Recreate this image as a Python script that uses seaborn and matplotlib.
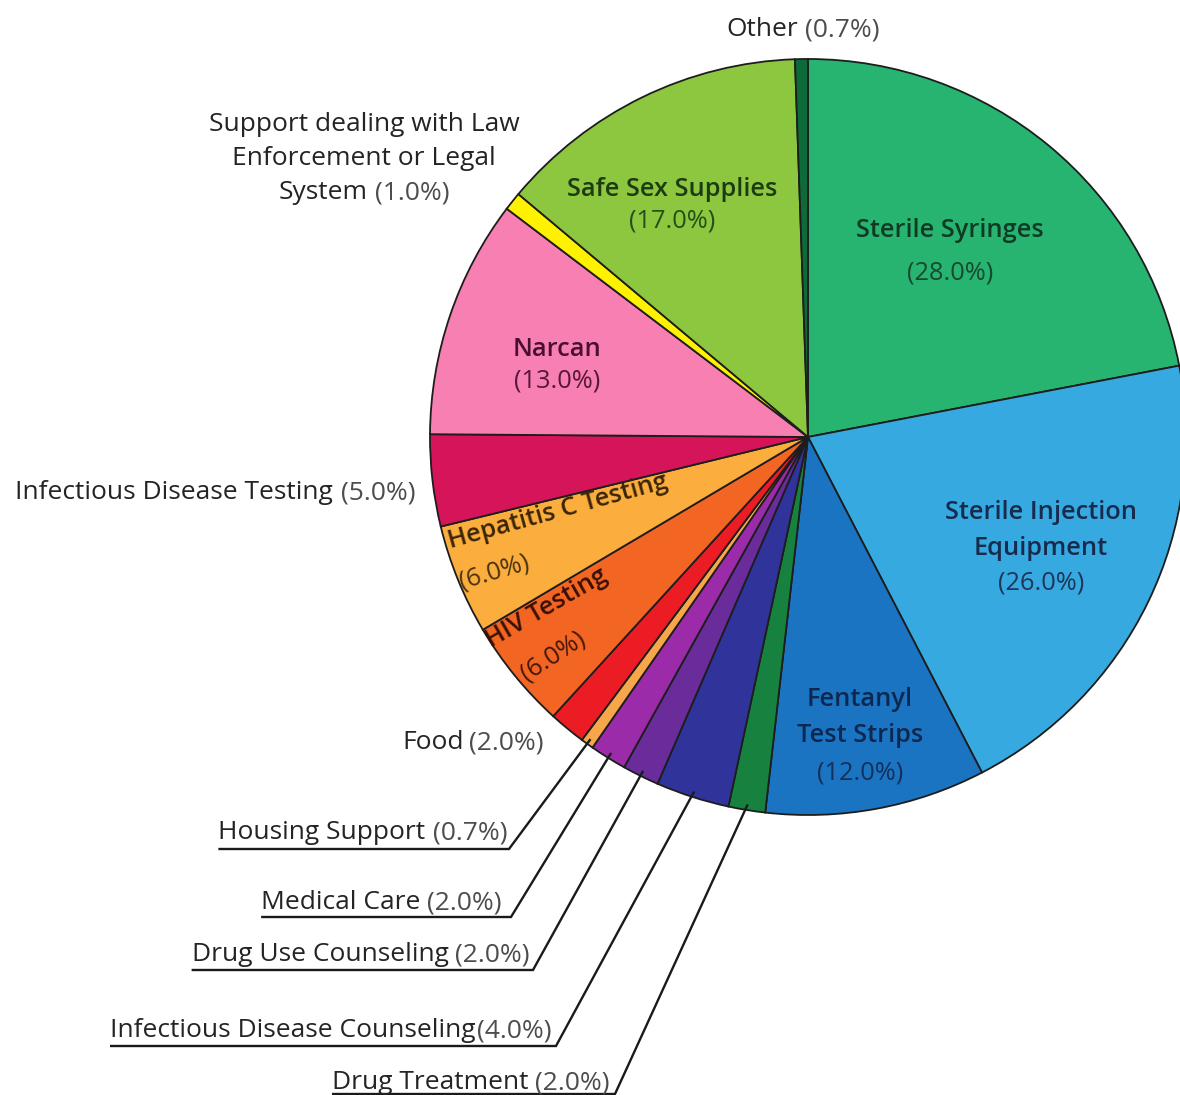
import numpy as np
import matplotlib
matplotlib.use("Agg")
import matplotlib.pyplot as plt
import seaborn as sns

# Services reported (share of responses, %), in clockwise order from 12 o'clock
categories = [
    "Sterile Syringes",
    "Sterile Injection Equipment",
    "Fentanyl Test Strips",
    "Drug Treatment",
    "Infectious Disease Counseling",
    "Drug Use Counseling",
    "Medical Care",
    "Housing Support",
    "Food",
    "HIV Testing",
    "Hepatitis C Testing",
    "Infectious Disease Testing",
    "Narcan",
    "Support dealing with Law Enforcement or Legal System",
    "Safe Sex Supplies",
    "Other",
]
shares = [28.0, 26.0, 12.0, 2.0, 4.0, 2.0, 2.0, 0.7, 2.0, 6.0, 6.0, 5.0, 13.0, 1.0, 17.0, 0.7]
slice_colors = [
    "#27b470", "#36a9e1", "#1b74c1", "#17823f", "#30339a", "#6a2c9b",
    "#9b2ba9", "#f7a64a", "#ec1c24", "#f26522", "#fbad3d", "#d5145a",
    "#f77fb1", "#fff200", "#8dc63f", "#0d6b3a",
]

sns.set_theme(style="white")
plt.rcParams["font.family"] = ["Open Sans", "DejaVu Sans"]

W, H = 1180, 1095
fig = plt.figure(figsize=(W / 100, H / 100), dpi=100)
ax = fig.add_axes([0, 0, 1, 1])

CX, CY, R = 808, 437, 378   # pie centre / radius in pixels (y measured from the top)


def up(y):
    return H - y


palette = sns.color_palette(slice_colors)
wedges, _ = ax.pie(
    shares, colors=palette, startangle=90, counterclock=False,
    center=(CX, up(CY)), radius=R, frame=False,
    wedgeprops=dict(edgecolor="#1d1d1d", linewidth=1.3),
)
ax.set_xlim(0, W)
ax.set_ylim(0, H)
ax.set_aspect("equal")
ax.set_axis_off()

wedge_of = dict(zip(categories, wedges))
pct_of = {c: f"({v:.1f}%)" for c, v in zip(categories, shares)}

renderer = fig.canvas.get_renderer()
FS_OUT = 19
FS_IN = 18.3
NAME_KW = dict(fontsize=FS_OUT, color="#242424")
PCT_KW = dict(fontsize=FS_OUT, color="#4d4d4d")


def half_cap(fs):
    return 0.5 * 0.714 * fs * 100 / 72


def rim_point(w, frac=0.985):
    th = np.deg2rad((w.theta1 + w.theta2) / 2)
    return w.center[0] + w.r * frac * np.cos(th), w.center[1] + w.r * frac * np.sin(th)


def two_part(x, cy, name, pct, ha="right", gap=7, name_kw=NAME_KW, pct_kw=PCT_KW):
    base = up(cy) - half_cap(name_kw["fontsize"])
    t1 = ax.text(0, base, name, ha="left", va="baseline", **name_kw)
    t2 = ax.text(0, base, pct, ha="left", va="baseline", **pct_kw)
    w1 = t1.get_window_extent(renderer).width
    w2 = t2.get_window_extent(renderer).width
    total = w1 + gap + w2
    left = {"left": x, "right": x - total, "center": x - total / 2}[ha]
    t1.set_x(left)
    t2.set_x(left + w1 + gap)
    return left, left + total


def one_line(x, cy, s, **kw):
    ax.text(x, up(cy) - half_cap(kw["fontsize"]), s, ha="center", va="baseline", **kw)


# --- labels outside the pie ---------------------------------------------
two_part(803, 27, "Other", pct_of["Other"], ha="center")

law = "Support dealing with Law Enforcement or Legal System"
one_line(364, 122, "Support dealing with Law", **NAME_KW)
one_line(364, 156, "Enforcement or Legal", **NAME_KW)
two_part(364, 190, "System", pct_of[law], ha="center")

two_part(415, 490, "Infectious Disease Testing", pct_of["Infectious Disease Testing"], gap=8)
two_part(544, 740, "Food", pct_of["Food"], gap=6)

# labels tied to their slices with a leader line and an underline
leader_specs = [
    # category, text right end, text centre y, corner of the leader
    ("Housing Support", 507, 830, (509, 849)),
    ("Medical Care", 502, 900, (511, 917)),
    ("Drug Use Counseling", 530, 952, (533, 970)),
    ("Infectious Disease Counseling", 552, 1028, (556, 1046)),
    ("Drug Treatment", 610, 1080, (615, 1094)),
]
for cat, right, cy, (kx, ky) in leader_specs:
    left, _ = two_part(right, cy, cat, pct_of[cat], gap=2 if "Infectious" in cat else 7)
    rx, ry = rim_point(wedge_of[cat])
    ax.plot([left, kx, rx], [up(ky), up(ky), ry], color="#1a1a1a", lw=1.7,
            solid_joinstyle="miter", solid_capstyle="butt")

# --- labels inside the pie ----------------------------------------------
inside_specs = [
    # category, lines, centre x, line centres y, name colour, percent colour
    ("Safe Sex Supplies", ["Safe Sex Supplies"], 672, [187, 218], "#1d3b12", "#24501a"),
    ("Sterile Syringes", ["Sterile Syringes"], 950, [228, 270], "#0f3a24", "#17492f"),
    ("Narcan", ["Narcan"], 557, [347, 378], "#4a0f2e", "#561838"),
    ("Sterile Injection Equipment", ["Sterile Injection", "Equipment"], 1041, [510, 546, 580],
     "#172b4d", "#1e3658"),
    ("Fentanyl Test Strips", ["Fentanyl", "Test Strips"], 860, [697, 733, 770],
     "#0d2850", "#12305a"),
]
for cat, lines, cx, ys, c_name, c_pct in inside_specs:
    for s, y in zip(lines, ys):
        one_line(cx, y, s, fontsize=FS_IN, fontweight="semibold", color=c_name)
    one_line(cx, ys[-1], pct_of[cat], fontsize=FS_IN, color=c_pct)

# rotated labels on the narrow testing slices
rot_specs = [
    ("Hepatitis C Testing", (450, 548, 15.5), (462, 589, 16.5), "#3a2406", "#4a3210"),
    ("HIV Testing", (491, 648, 30), (527, 681, 33), "#3a1004", "#46170a"),
]
for cat, (nx, ny, nr), (px, py, pr), c_name, c_pct in rot_specs:
    ax.text(nx, up(ny), cat, rotation=nr, rotation_mode="anchor", ha="left",
            va="baseline", fontsize=FS_IN, fontweight="semibold", color=c_name)
    ax.text(px, up(py), pct_of[cat], rotation=pr, rotation_mode="anchor", ha="left",
            va="baseline", fontsize=FS_IN, color=c_pct)

fig.savefig("out.png", dpi=100, facecolor="white")
